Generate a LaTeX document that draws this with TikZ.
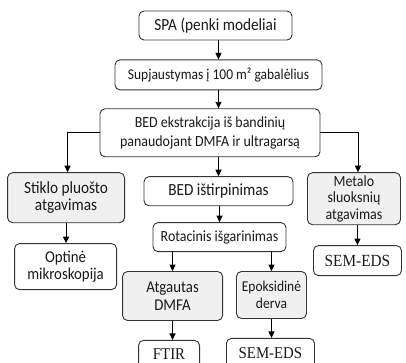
\documentclass[tikz,border=0pt]{standalone}
\usepackage{fontspec}
\usepackage{tikz}
\usetikzlibrary{shapes,arrows.meta,positioning}

\newfontfamily\calfont{Carlito}[FakeStretch=0.9]
\newfontfamily\timesfont{Liberation Serif}[FakeStretch=0.9]

\begin{document}
\begin{tikzpicture}[
    x=1pt, y=1pt,
    font=\calfont,
    % Styles
    stage/.style={
        rectangle,
        draw=black!80,
        line width=0.9pt,
        rounded corners=5pt,
        fill=white,
        text=black!90,
        align=center,
        inner sep=2pt
    },
    shaded/.style={
        stage,
        fill=gray!12
    },
    result/.style={
        stage,
        font=\timesfont\fontsize{17}{19}\selectfont
    },
    % Line Styles
    flow/.style={draw, -{Triangle[width=6pt,length=6.5pt]}, line width=0.9pt, black}
]

\useasboundingbox (0,0) rectangle (406,-363);
\clip (0,0) rectangle (406,-363);

% --- Nodes ---

% Main column
\node[stage, minimum width=153pt, minimum height=29pt, font=\calfont\fontsize{17}{20}\selectfont] (spa) at (215.5,-25.5) {SPA (penki modeliai};
\node[stage, below=19pt of spa, xshift=3pt, minimum width=207pt, minimum height=30pt, font=\calfont\fontsize{15}{18}\selectfont] (cut) {Supjaustymas į 100 m² gabalėlius};
\node[stage, below=18pt of cut, xshift=-8.5pt, minimum width=220pt, minimum height=48pt, font=\calfont\fontsize{15.5}{19}\selectfont] (extract) {BED ekstrakcija iš bandinių\\panaudojant DMFA ir ultragarsą};
\node[stage, below=19pt of extract, xshift=8.5pt, minimum width=149pt, minimum height=29pt, font=\calfont\fontsize{17}{20}\selectfont] (dissolve) {BED ištirpinimas};
\node[stage, below=16pt of dissolve, xshift=1pt, minimum width=133pt, minimum height=29pt, font=\calfont\fontsize{15.5}{18}\selectfont] (evap) {Rotacinis išgarinimas};

% Left column: glass fibre
\node[shaded, below=15pt of extract.south west, xshift=-33.5pt, minimum width=117pt, minimum height=50pt, font=\calfont\fontsize{17}{17.5}\selectfont] (glass) {Stiklo pluošto\\atgavimas};
\node[stage, below=20pt of glass, xshift=-0.5pt, minimum width=102pt, minimum height=46pt, font=\calfont\fontsize{16.5}{16.5}\selectfont] (optic) {Optinė\\mikroskopija};

% Right column: metal layers
\node[shaded, below=15pt of extract.south east, xshift=33.5pt, minimum width=93pt, minimum height=52pt, font=\calfont\fontsize{15.5}{16.5}\selectfont] (metal) {Metalo\\sluoksnių\\atgavimas};
\node[result, below=20pt of metal, xshift=3.5pt, minimum width=88pt, minimum height=30pt] (semright) {SEM-EDS};

% Bottom: recovered products
\node[shaded, below=19pt of evap.south west, xshift=20pt, minimum width=100pt, minimum height=49pt, font=\calfont\fontsize{16.5}{17.5}\selectfont] (dmfa) {Atgautas\\DMFA};
\node[shaded, below=19pt of evap.south east, xshift=-15pt, minimum width=70pt, minimum height=47pt, font=\calfont\fontsize{15}{17}\selectfont] (epoxy) {Epoksidinė\\derva};
\node[result, below=19pt of dmfa, xshift=-3.5pt, minimum width=61pt, minimum height=28pt, font=\timesfont\fontsize{16.5}{19}\selectfont] (ftir) {FTIR};
\node[result, below=19pt of epoxy, xshift=-1pt, minimum width=88pt, minimum height=30pt, font=\timesfont\fontsize{16.5}{19}\selectfont] (semlow) {SEM-EDS};

% --- Connections ---
\draw[flow] (spa.south -| cut) -- (cut);
\draw[flow] (cut.south) -- (cut.south |- extract.north);
\draw[flow] (extract.south -| dissolve) -- (dissolve);
\draw[flow] (dissolve.south -| evap) -- (evap);

\draw[flow] (extract.west) -| ([xshift=1.5pt]glass.north);
\draw[flow] (extract.east) -| ([xshift=4pt]metal.north);

\draw[flow] (glass.south) -- (glass.south |- optic.north);
\draw[flow] (metal.south -| semright) -- (semright);

\draw[flow] (evap.south -| dmfa) -- (dmfa);
\draw[flow] (evap.south -| epoxy) -- (epoxy);
\draw[flow] (dmfa.south) -- (dmfa.south |- ftir.north);
\draw[flow] (epoxy.south) -- (epoxy.south |- semlow.north);

\end{tikzpicture}
\end{document}
